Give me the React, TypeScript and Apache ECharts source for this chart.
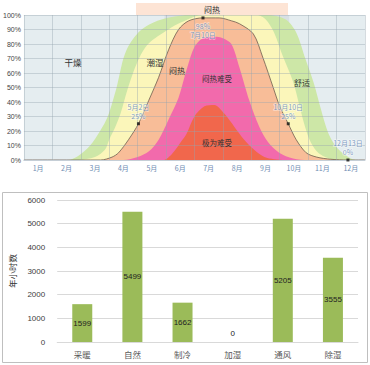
import React, { useEffect, useRef } from "react";
import * as echarts from "echarts";

const months = ["1月", "2月", "3月", "4月", "5月", "6月", "7月", "8月", "9月", "10月", "11月", "12月"];

// x = month position (0 = Jan 1, 12 = Dec 31), y = percent
const comfortTop = [
  [0, 0], [1.55, 0], [1.92, 3], [2.33, 10], [2.68, 20], [2.95, 30], [3.26, 50], [3.5, 70], [3.72, 80],
  [4.14, 90], [4.7, 96], [5.3, 99], [5.8, 100], [8.6, 100], [9.2, 97], [9.58, 88], [9.9, 70], [10.2, 53],
  [10.45, 35], [10.7, 19], [10.95, 10], [11.2, 5], [11.5, 1], [11.7, 0], [12, 0],
];
const humidTop = [
  [0, 0], [1.9, 0], [2.5, 2], [2.85, 7], [3.0, 14], [3.2, 22], [3.4, 32], [3.65, 49], [4.0, 68],
  [4.37, 80], [5.08, 90], [5.54, 95], [6.3, 100], [8.2, 100], [8.5, 97], [8.8, 88], [9.1, 72], [9.47, 54],
  [9.7, 37], [9.86, 25], [10.05, 14], [10.3, 6], [10.6, 2], [11.0, 0], [12, 0],
];
const sultryTop = [
  [0, 0], [2.7, 0], [3.1, 2], [3.33, 5], [3.68, 14], [4.03, 25], [4.39, 41], [4.74, 57], [5.09, 76],
  [5.44, 90], [5.8, 96], [6.3, 98], [6.87, 98], [7.3, 96], [7.58, 94], [8.07, 87], [8.4, 71], [8.77, 50],
  [9.0, 37], [9.3, 25], [9.58, 14], [9.93, 5], [10.3, 2], [10.8, 0.5], [11.4, 0], [12, 0],
];
const uncomfortTop = [
  [0, 0], [3.5, 0], [4.0, 2], [4.4, 6], [4.74, 14], [5.09, 28], [5.44, 43], [5.72, 62], [6.0, 78],
  [6.3, 84], [6.7, 85], [7.0, 84], [7.3, 80], [7.58, 64], [7.93, 41], [8.28, 23], [8.6, 12], [8.98, 5],
  [9.47, 1], [10, 0], [12, 0],
];
const extremeTop = [
  [0, 0], [4.9, 0], [5.2, 4], [5.54, 13], [5.72, 18], [6.0, 30], [6.35, 37], [6.7, 38], [7.05, 32],
  [7.4, 23], [7.75, 14], [8.1, 7], [8.46, 2], [8.8, 0.5], [9.2, 0], [12, 0],
];
const keyPoints = [
  { x: 4.03, y: 25, top: "5月2日", bottom: "25%", pos: "top" },
  { x: 6.3, y: 98, top: "98%", bottom: "7月10日", pos: "bottom" },
  { x: 9.3, y: 25, top: "10月10日", bottom: "25%", pos: "top" },
  { x: 11.4, y: 0, top: "12月13日", bottom: "0%", pos: "top" },
];
const sultryBand = [4.95, 9.33];

const barCategories = ["采暖", "自然", "制冷", "加湿", "通风", "除湿"];
const barValues = [1599, 5499, 1662, 0, 5205, 3555];

const CJK = '"Noto Sans CJK SC", "Noto Sans", sans-serif';

export default function App() {
  const ref = useRef<HTMLDivElement>(null);
  useEffect(() => {
    if (!ref.current) return;
    const chart = echarts.init(ref.current, null, { renderer: "svg" });
    const area = (name: string, data: number[][], color: string, z: number, line?: string) => ({
      name,
      type: "line",
      xAxisIndex: 1,
      yAxisIndex: 0,
      data,
      smooth: 0.3,
      symbol: "none",
      z,
      lineStyle: line ? { color: line, width: 0.8 } : { width: 0 },
      areaStyle: { color, opacity: 1 },
      silent: true,
    });
    const txt = (x: number, y: number, text: string, size = 8) => ({
      type: "text",
      x,
      y,
      z: 100,
      style: { text, fill: "#333", font: `${size}px ${CJK}`, align: "center", verticalAlign: "middle" },
    });
    chart.setOption({
      animation: false,
      grid: [
        { left: 22, top: 15, width: 343, height: 145, show: true, backgroundColor: "#e5edf0", borderWidth: 0 },
        { left: 52, top: 200, width: 306, height: 142 },
      ],
      xAxis: [
        {
          type: "category",
          gridIndex: 0,
          data: months,
          boundaryGap: true,
          z: 5,
          axisLine: { lineStyle: { color: "#c5ced6" } },
          axisTick: { show: false },
          axisLabel: { color: "#6f8db3", fontSize: 7, fontFamily: CJK, margin: 4 },
          splitLine: { show: true, lineStyle: { color: "rgba(150,165,175,0.4)", width: 1 } },
        },
        { type: "value", gridIndex: 0, min: 0, max: 12, show: false },
        {
          type: "category",
          gridIndex: 1,
          data: barCategories,
          axisLine: { lineStyle: { color: "#d9d9d9" } },
          axisTick: { show: false },
          axisLabel: { color: "#595959", fontSize: 8.5, fontFamily: CJK, margin: 8 },
        },
      ],
      yAxis: [
        {
          type: "value",
          gridIndex: 0,
          min: 0,
          max: 100,
          interval: 10,
          z: 5,
          axisLine: { show: false },
          axisTick: { show: false },
          axisLabel: { formatter: "{value}%", color: "#444", fontSize: 7, margin: 3 },
          splitLine: { lineStyle: { color: "rgba(150,165,175,0.4)", width: 1 } },
        },
        {
          type: "value",
          gridIndex: 1,
          min: 0,
          max: 6000,
          interval: 1000,
          name: "年小时数",
          nameLocation: "middle",
          nameRotate: 90,
          nameGap: 29,
          nameTextStyle: { color: "#333", fontSize: 8.5, fontFamily: CJK },
          axisLine: { show: false },
          axisTick: { show: false },
          axisLabel: { color: "#404040", fontSize: 8, margin: 12, formatter: (v: number) => String(v) },
          splitLine: { lineStyle: { color: "#d9d9d9", width: 1.2 } },
        },
      ],
      series: [
        area("舒适", comfortTop, "#cde7a7", 2),
        area("潮湿", humidTop, "#fbf6ba", 2),
        area("闷热", sultryTop, "#f8bd98", 2, "#6e5e50"),
        area("闷热难受", uncomfortTop, "#f26aac", 2),
        area("极为难受", extremeTop, "#f1674c", 2),
        {
          type: "line",
          xAxisIndex: 1,
          yAxisIndex: 0,
          data: [],
          z: 3,
          silent: true,
          markArea: {
            silent: true,
            itemStyle: { color: "rgba(140,140,150,0.13)" },
            data: [[{ xAxis: sultryBand[0] }, { xAxis: sultryBand[1] }]],
          },
        },
        {
          type: "scatter",
          xAxisIndex: 1,
          yAxisIndex: 0,
          z: 6,
          symbol: "rect",
          symbolSize: 3,
          itemStyle: { color: "#111" },
          data: keyPoints.map((p) => ({
            value: [p.x, p.y],
            label: {
              show: true,
              formatter: `{a|${p.top}}\n{a|${p.bottom}}`,
              position: p.pos,
              distance: 2,
              rich: {
                a: {
                  color: "#5f84b3",
                  fontSize: 7,
                  lineHeight: 9,
                  fontFamily: CJK,
                  align: "center",
                  textBorderColor: "rgba(255,255,255,0.6)",
                  textBorderWidth: 1.5,
                },
              },
            },
          })),
        },
        {
          type: "bar",
          xAxisIndex: 2,
          yAxisIndex: 1,
          barWidth: 20,
          itemStyle: { color: "#9bbb59" },
          data: barValues.map((v) => ({
            value: v,
            label: {
              show: true,
              position: v === 0 ? "top" : "inside",
              color: "#222",
              fontSize: 8,
            },
          })),
        },
      ],
      graphic: [
        {
          type: "rect",
          shape: { x: 136, y: 3, width: 152, height: 12 },
          style: { fill: "#fde4d5" },
          z: 1,
        },
        txt(212, 9, "闷热", 8),
        txt(73, 62, "干燥", 8.5),
        txt(155, 62, "潮湿", 8.5),
        txt(177, 70, "闷热", 8),
        txt(217, 78, "闷热难受", 7.5),
        txt(217, 142, "极为难受", 7.5),
        txt(302, 82, "舒适", 8),
        {
          type: "rect",
          shape: { x: 2.5, y: 192.5, width: 365, height: 170 },
          style: { fill: "none", stroke: "#bfbfbf", lineWidth: 1 },
          z: 0,
        },
      ],
    });
    return () => chart.dispose();
  }, []);
  return (
    <div
      ref={ref}
      style={{ position: "absolute", left: 0, top: 0, width: 370, height: 365 }}
    />
  );
}
